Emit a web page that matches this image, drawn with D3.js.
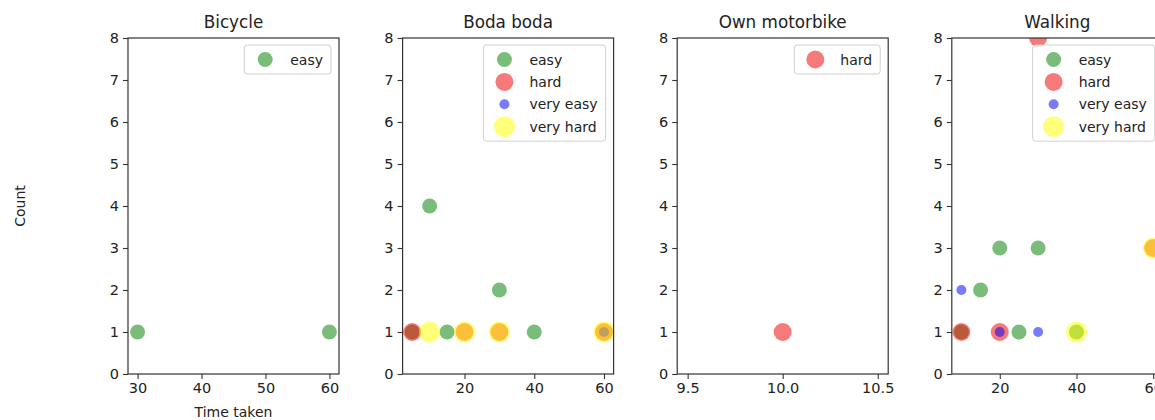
<!DOCTYPE html>
<html>
<head>
<meta charset="utf-8">
<script src="https://cdn.jsdelivr.net/npm/d3@7"></script>
<style>
  html, body { margin: 0; padding: 0; background: #fff; overflow: hidden; }
  text { font-family: "DejaVu Sans", sans-serif; fill: #222; }
</style>
</head>
<body>
<svg id="chart" width="1155" height="420"></svg>
<script>
// ---------- data ----------
const panels = ["Bicycle", "Boda boda", "Own motorbike", "Walking"];
const levels = ["easy", "hard", "very easy", "very hard"];
const levelColors = ["green", "#f00000", "blue", "yellow"];
const levelRadius = [7.5, 9, 5, 10.5];

// points per panel: [level, time taken, count]
const bicyclePoints = [
  ["easy", 30, 1], ["easy", 60, 1]
];
const bodaPoints = [
  ["easy", 5, 1], ["easy", 10, 4], ["easy", 15, 1], ["easy", 30, 2], ["easy", 40, 1],
  ["hard", 5, 1], ["hard", 20, 1], ["hard", 30, 1], ["hard", 60, 1],
  ["very easy", 60, 1],
  ["very hard", 10, 1], ["very hard", 20, 1], ["very hard", 30, 1], ["very hard", 60, 1]
];
const motorbikePoints = [
  ["hard", 10, 1]
];
const walkingPoints = [
  ["easy", 10, 1], ["easy", 15, 2], ["easy", 20, 3], ["easy", 25, 1], ["easy", 30, 3], ["easy", 40, 1],
  ["hard", 10, 1], ["hard", 20, 1], ["hard", 30, 8], ["hard", 60, 3],
  ["very easy", 10, 2], ["very easy", 20, 1], ["very easy", 30, 1],
  ["very hard", 40, 1], ["very hard", 60, 3]
];
const panelPoints = [bicyclePoints, bodaPoints, motorbikePoints, walkingPoints];
const xTickValues = [[30, 40, 50, 60], [20, 40, 60], [9.5, 10.0, 10.5], [20, 40, 60]];
const xTickFormats = ["d", "d", ".1f", "d"];
const yTicks = [0, 1, 2, 3, 4, 5, 6, 7, 8];
const yLabel = "Count";
const xLabel = "Time taken";

// ---------- layout ----------
const svg = d3.select("#chart");
const axLeft0 = 128, axStep = 274.6, axW = 211, axTop = 38, axBottom = 374;
const y = d3.scaleLinear().domain([0, 8]).range([axBottom, axTop]);

function xDomain(pts) {
  const ext = d3.extent(pts, d => d[1]);
  if (ext[0] === ext[1]) return [ext[0] - 0.555, ext[1] + 0.555];
  const m = (ext[1] - ext[0]) * 0.05;
  return [ext[0] - m, ext[1] + m];
}

panels.forEach((name, i) => {
  const pts = panelPoints[i];
  const left = axLeft0 + i * axStep;
  const x = d3.scaleLinear().domain(xDomain(pts)).range([left, left + axW]);
  const g = svg.append("g");

  const clipId = "clip" + i;
  svg.append("clipPath").attr("id", clipId)
    .append("rect").attr("x", left).attr("y", axTop).attr("width", axW).attr("height", axBottom - axTop);

  // points
  const pg = g.append("g").attr("clip-path", `url(#${clipId})`);
  levels.forEach((lv, li) => {
    pg.selectAll(null).data(pts.filter(p => p[0] === lv)).enter()
      .append("circle")
      .attr("cx", d => x(d[1]))
      .attr("cy", d => y(d[2]))
      .attr("r", levelRadius[li])
      .attr("fill", levelColors[li])
      .attr("fill-opacity", 0.52);
  });

  // axes
  const xAxis = d3.axisBottom(x).tickValues(xTickValues[i]).tickFormat(d3.format(xTickFormats[i]))
    .tickSizeOuter(0).tickSize(5).tickPadding(4);
  const yAxis = d3.axisLeft(y).tickValues(yTicks).tickFormat(d3.format("d"))
    .tickSizeOuter(0).tickSize(5).tickPadding(4);
  const gx = g.append("g").attr("transform", `translate(0,${axBottom})`).call(xAxis);
  const gy = g.append("g").attr("transform", `translate(${left},0)`).call(yAxis);
  [gx, gy].forEach(a => {
    a.select(".domain").remove();
    a.selectAll("line").attr("stroke", "#333").attr("stroke-width", 1.1);
    a.selectAll("text").attr("font-size", 14.5).attr("fill", "#222")
      .style("font-family", "'DejaVu Sans', sans-serif");
  });

  // frame
  g.append("rect").attr("x", left).attr("y", axTop).attr("width", axW).attr("height", axBottom - axTop)
    .attr("fill", "none").attr("stroke", "#333").attr("stroke-width", 1.2);

  // title
  g.append("text").attr("x", left + axW / 2).attr("y", 28).attr("text-anchor", "middle")
    .attr("font-size", 16.8).text(name);

  // legend
  const present = levels.filter(lv => pts.some(p => p[0] === lv));
  const lg = g.append("g");
  const box = lg.append("rect");
  const rowH = 22.4, top = axTop + 7;
  let maxW = 0;
  present.forEach((lv, k) => {
    const li = levels.indexOf(lv);
    const cy = top + 14.5 + k * rowH;
    lg.append("circle").attr("cx", 0).attr("cy", cy).attr("r", levelRadius[li])
      .attr("fill", levelColors[li]).attr("fill-opacity", 0.52);
    const t = lg.append("text").attr("x", 25).attr("y", cy + 5).attr("font-size", 14).text(lv);
    maxW = Math.max(maxW, t.node().getComputedTextLength());
  });
  const boxW = 46 + maxW + 8;
  const boxH = 29 + (present.length - 1) * rowH;
  const boxLeft = left + axW - 8 - boxW;
  box.attr("x", -21).attr("y", top).attr("width", boxW).attr("height", boxH)
    .attr("rx", 3).attr("fill", "#fff").attr("fill-opacity", 0.8)
    .attr("stroke", "#d0d0d0").attr("stroke-width", 1);
  lg.attr("transform", `translate(${boxLeft + 21},0)`);
});

// axis labels
svg.append("text").attr("transform", `translate(25,${(axTop + axBottom) / 2}) rotate(-90)`)
  .attr("text-anchor", "middle").attr("font-size", 14).text(yLabel);
svg.append("text").attr("x", axLeft0 + axW / 2).attr("y", 417)
  .attr("text-anchor", "middle").attr("font-size", 14).text(xLabel);
</script>
</body>
</html>
